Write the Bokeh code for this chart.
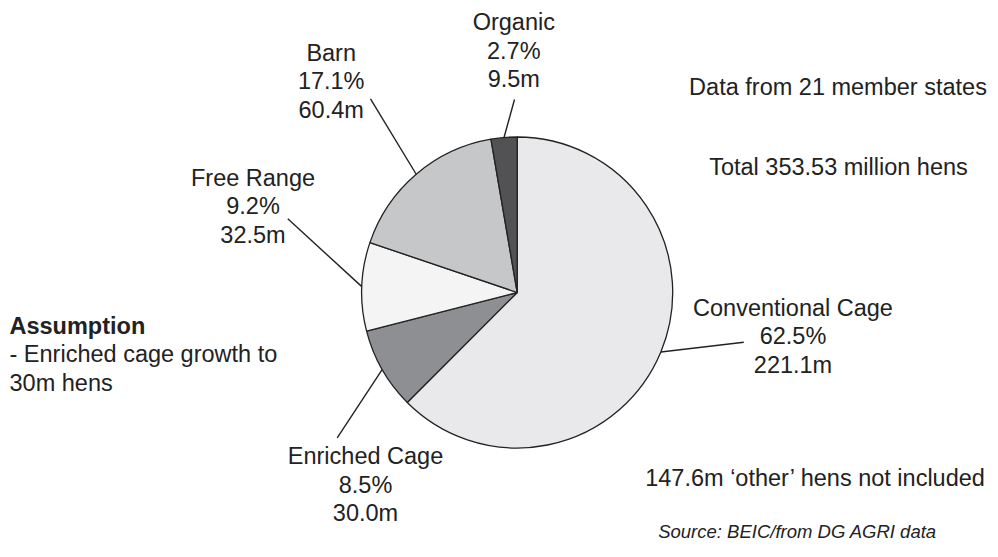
import numpy as np
from bokeh.plotting import figure
from bokeh.models import Range1d
from bokeh.embed import file_html
from bokeh.resources import INLINE
from bokeh.core.properties import value

# ---- data ----
categories = ["Conventional Cage", "Enriched Cage", "Free Range", "Barn", "Organic"]
shares = [62.5, 8.5, 9.2, 17.1, 2.7]          # percent
hens_m = [221.1, 30.0, 32.5, 60.4, 9.5]       # million hens
colors = ["#e9e9eb", "#8e8f92", "#f4f4f4", "#c6c7c9", "#525254"]

notes = ["Data from 21 member states", "Total 353.53 million hens",
         "147.6m \u2018other\u2019 hens not included"]
source_note = "Source: BEIC/from DG AGRI data"
assumption_title = "Assumption"
assumption_lines = ["- Enriched cage growth to", "30m hens"]

# ---- layout (picture pixel coordinates) ----
W, H = 990, 541
CX, CY, R = 516.7, 292.0, 155.5
TY = -9.5   # correction for the rendered text baseline
label_pos = [(792.5, 316.7), (365.0, 465.0), (252.5, 186.7), (330.7, 61.7), (513.3, 31.0)]
leader_end = [(743.3, 341.7), (336.7, 437.3), (287.3, 218.3), (370.0, 98.3), (514.0, 99.0)]
LINE_H = 28.7
FONT = value("Liberation Sans")
FS = "23.5px"
TXT = "#222222"

p = figure(width=W, height=H, output_backend="svg", toolbar_location=None,
           x_range=Range1d(0, W), y_range=Range1d(-H, 0),
           x_axis_type=None, y_axis_type=None, min_border=0)
p.grid.visible = False
p.outline_line_color = None
p.background_fill_color = "white"
p.border_fill_color = "white"

frac = np.array(shares) / np.sum(shares)
cum = np.cumsum(frac)
before = cum - frac
a0 = before * 2 * np.pi   # clockwise from top
a1 = cum * 2 * np.pi

p.wedge(x=[CX] * len(shares), y=[-CY] * len(shares), radius=R,
        start_angle=list(np.pi / 2 - a1), end_angle=list(np.pi / 2 - a0),
        direction="anticlock", fill_color=colors,
        line_color="#222222", line_width=1.3)

# leader lines from slice mid-angle on the rim to label
mid = (a0 + a1) / 2
x0 = CX + R * np.sin(mid)
y0 = CY - R * np.cos(mid)
p.segment(x0=list(x0), y0=list(-y0),
          x1=[e[0] for e in leader_end], y1=[-e[1] for e in leader_end],
          line_color="#222222", line_width=1.4)

# slice labels
for cat, s, v, (lx, ly) in zip(categories, shares, hens_m, label_pos):
    lines = [cat, f"{s:.1f}%", f"{v:.1f}m"]
    p.text(x=[lx] * 3, y=[-(ly + TY + i * LINE_H) for i in range(3)], text=lines,
           text_align="center", text_baseline="alphabetic",
           text_font=FONT, text_font_size=FS, text_color=TXT)

# notes on the right
p.text(x=[837.5, 838.0, 815.0], y=[-(96.0 + TY), -(176.0 + TY), -(487.0 + TY)], text=notes,
       text_align="center", text_baseline="alphabetic",
       text_font=FONT, text_font_size=FS, text_color=TXT)
p.text(x=[797.0], y=[-531.0], text=[source_note],
       text_align="center", text_baseline="alphabetic",
       text_font=FONT, text_font_size="18.5px", text_font_style="italic",
       text_color=TXT)

# assumption block
p.text(x=[9.0], y=[-(335.0 + TY)], text=[assumption_title],
       text_align="left", text_baseline="alphabetic",
       text_font=FONT, text_font_size=FS, text_font_style="bold", text_color=TXT)
p.text(x=[9.0, 9.0], y=[-(363.3 + TY), -(391.7 + TY)], text=assumption_lines,
       text_align="left", text_baseline="alphabetic",
       text_font=FONT, text_font_size=FS, text_color=TXT)

open("out.html", "w").write(file_html(p, INLINE))
